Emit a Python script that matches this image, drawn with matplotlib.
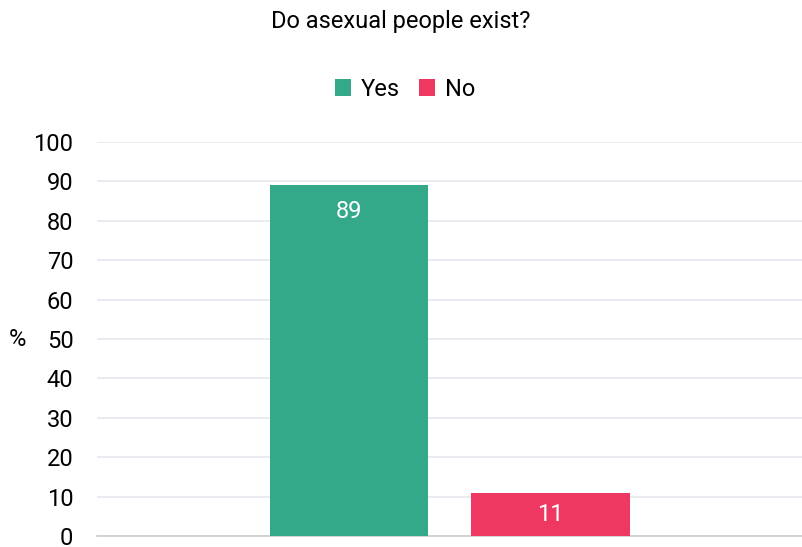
import matplotlib.pyplot as plt
from matplotlib import font_manager
from matplotlib.patches import Patch

# Data
series = ['Yes', 'No']
values = [89, 11]
colors = ['#34a98a', '#ee3862']
yticks = list(range(0, 101, 10))

names = {f.name for f in font_manager.fontManager.ttflist}
family = 'Liberation Sans Narrow' if 'Liberation Sans Narrow' in names else 'Roboto'
plt.rcParams['font.family'] = [family, 'DejaVu Sans']

fig = plt.figure(figsize=(8.02, 5.47), dpi=100)
ax = fig.add_axes([0.121, 0.0201, 0.879, 0.7203])

width = 0.2255
offsets = [-0.1426, 0.1426]
for off, v, c in zip(offsets, values, colors):
    ax.bar(off, v, width=width, color=c, zorder=3)

# value labels
ax.text(offsets[0], values[0] - 6.6, str(values[0]), ha='center', va='center',
        color='white', fontsize=17, zorder=4)
ax.text(offsets[1], values[1] / 2, str(values[1]), ha='center', va='center',
        color='white', fontsize=17, zorder=4)

ax.set_xlim(-0.5, 0.5)
ax.set_ylim(0, 100)
ax.set_yticks(yticks)
ax.set_xticks([])
ax.tick_params(axis='y', length=0, pad=17, labelsize=17, colors='black')
ax.grid(axis='y', color='#e6e9ee', linewidth=1.3, zorder=0)
for s in ['top', 'right', 'left']:
    ax.spines[s].set_visible(False)
ax.spines['bottom'].set_color('#d0d0d0')
ax.spines['bottom'].set_linewidth(1.3)

ax.set_ylabel('%', rotation=0, fontsize=17, va='center', ha='center')
ax.yaxis.set_label_coords(-0.113, 0.5)

fig.text(0.5, 0.96, 'Do asexual people exist?', ha='center', va='center', fontsize=17)

handles = [Patch(facecolor=c, label=s) for s, c in zip(series, colors)]
fig.legend(handles=handles, loc='center', bbox_to_anchor=(0.505, 0.837), ncol=2,
           frameon=False, fontsize=17, handlelength=0.7, handleheight=0.7,
           handletextpad=0.4, columnspacing=0.8)

fig.savefig('out.png', dpi=100)
